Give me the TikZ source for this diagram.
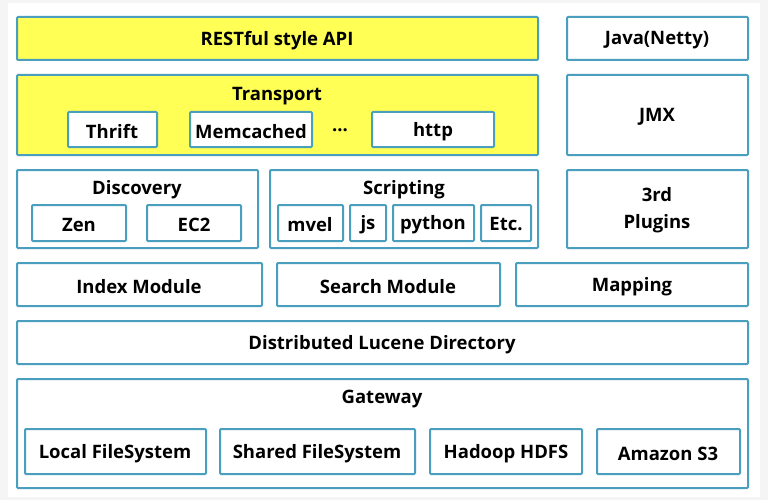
\documentclass[tikz,border=0pt]{standalone}
\usepackage{fontspec}
\setmainfont{Open Sans}
\begin{document}
\begin{tikzpicture}[x=1pt,y=-1pt,
  bx/.style={draw=bc,line width=2pt,fill=white,rounded corners=1pt},
  yb/.style={bx,fill=yel},
  t/.style={font=\bfseries\fontsize{18.5}{21}\selectfont,inner sep=0pt,yshift=-1.5pt}]
\definecolor{bc}{HTML}{4A9FBF}\definecolor{yel}{HTML}{FFFF55}
\fill[gray!8] (0,0) rectangle (768,500);
\fill[white] (8,3) rectangle (760,497);
\useasboundingbox (0,0) rectangle (768,500);
\draw[yb] (17,17) rectangle (538,60); \node[t] (rest) at (277,39) {RESTful style API};
\draw[bx] (567,17) rectangle (748,60); \node[t] (java) at (657,39) {Java(Netty)};
\draw[yb] (17,75) rectangle (538,155); \node[t] (tr) at (277,95) {Transport};
\draw[bx] (68,112) rectangle (157,147); \node[t] (thr) at (112,130) {Thrift};
\draw[bx] (190,112) rectangle (312,147); \node[t] (mem) at (251,130) {Memcached};
\node[t] (dots) at (340,129) {...};
\draw[bx] (372,112) rectangle (494,147); \node[t] (http) at (433,130) {http};
\draw[bx] (567,75) rectangle (748,155); \node[t] (jmx) at (657,115) {JMX};
\draw[bx] (17,170) rectangle (258,248); \node[t] (disc) at (137,188) {Discovery};
\draw[bx] (32,205) rectangle (126,241); \node[t] (zen) at (79,223) {Zen};
\draw[bx] (147,205) rectangle (241,241); \node[t] (ec2) at (194,223) {EC2};
\draw[bx] (270,170) rectangle (538,248); \node[t] (scr) at (404,188) {Scripting};
\draw[bx] (278,205) rectangle (343,241); \node[t] (mvel) at (310,223) {mvel};
\draw[bx] (350,205) rectangle (386,241); \node[t] (js) at (368,223) {js};
\draw[bx] (393,205) rectangle (474,241); \node[t] (py) at (433,223) {python};
\draw[bx] (481,205) rectangle (531,241); \node[t] (etc) at (506,223) {Etc.};
\draw[bx] (567,170) rectangle (748,248); \node[t,align=center] (plug) at (657,209) {3rd\\[6pt]Plugins};
\draw[bx] (17,263) rectangle (262,306); \node[t] (idx) at (139,285) {Index Module};
\draw[bx] (277,263) rectangle (500,306); \node[t] (srch) at (388,285) {Search Module};
\draw[bx] (516,263) rectangle (748,306); \node[t] (map) at (632,285) {Mapping};
\draw[bx] (17,321) rectangle (748,364); \node[t] (dld) at (382,343) {Distributed Lucene Directory};
\draw[bx] (17,379) rectangle (748,488); \node[t] (gw) at (382,398) {Gateway};
\draw[bx] (25,429) rectangle (206,474); \node[t] (lfs) at (115,452) {Local FileSystem};
\draw[bx] (220,429) rectangle (415,474); \node[t] (sfs) at (317,452) {Shared FileSystem};
\draw[bx] (430,429) rectangle (582,474); \node[t] (hdfs) at (506,452) {Hadoop HDFS};
\draw[bx] (597,429) rectangle (740,474); \node[t] (s3) at (668,452) {Amazon S3};
\end{tikzpicture}
\end{document}
